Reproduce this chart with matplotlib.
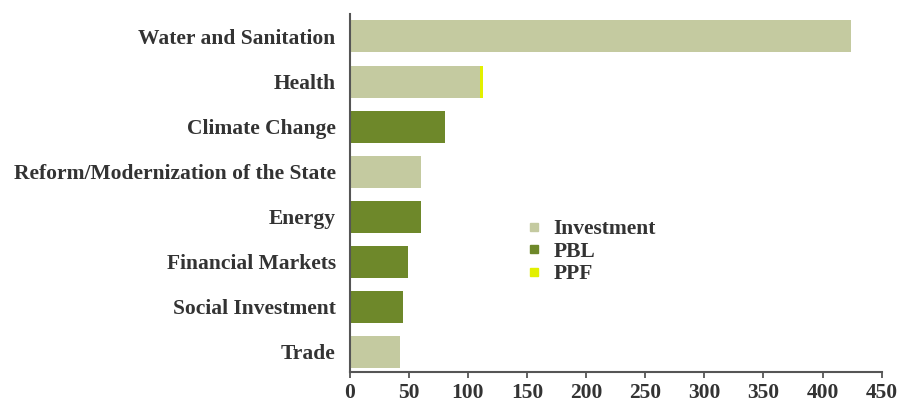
import matplotlib
matplotlib.use("Agg")
import matplotlib.pyplot as plt
from matplotlib.lines import Line2D

# sectors, bottom to top as drawn
sectors = ['Trade', 'Social Investment', 'Financial Markets', 'Energy',
           'Reform/Modernization of the State', 'Climate Change', 'Health',
           'Water and Sanitation']
investment = [42.7, 0, 0, 0, 60.2, 0, 110.5, 424]
pbl = [0, 45.3, 49.8, 60, 0, 80.7, 0, 0]
ppf = [0, 0, 0, 0, 0, 0, 2, 0]
xticks = [0, 50, 100, 150, 200, 250, 300, 350, 400, 450]

inv_col = '#c4caa0'
pbl_col = '#6e882a'
ppf_col = '#e2f000'
axis_col = '#555555'
text_col = '#333333'

plt.rcParams['font.family'] = ['Liberation Serif', 'DejaVu Serif']
plt.rcParams['font.weight'] = 'bold'

fig = plt.figure(figsize=(9.01, 4.04), dpi=100)
ax = fig.add_axes([0.388, 0.0785, 0.5906, 0.886])

y = range(len(sectors))
h = 0.71
ax.barh(y, investment, height=h, color=inv_col)
ax.barh(y, pbl, height=h, left=investment, color=pbl_col)
left2 = [a + b for a, b in zip(investment, pbl)]
ax.barh(y, ppf, height=h, left=left2, color=ppf_col)

ax.set_xlim(0, 450)
ax.set_ylim(-0.45, 7.49)
ax.set_xticks(xticks)
ax.set_yticks(list(y))
ax.set_yticklabels(sectors)

for s in ['top', 'right']:
    ax.spines[s].set_visible(False)
for s in ['left', 'bottom']:
    ax.spines[s].set_color(axis_col)
    ax.spines[s].set_linewidth(1.5)

ax.tick_params(axis='y', length=0, pad=10, labelsize=15.5, labelcolor=text_col)
ax.tick_params(axis='x', length=4, width=1.3, color=axis_col, pad=4,
               labelsize=15.5, labelcolor=text_col)

handles = [Line2D([], [], ls='none', marker='s', markersize=6, color=c)
           for c in [inv_col, pbl_col, ppf_col]]
ax.legend(handles, ['Investment', 'PBL', 'PPF'], loc='upper left',
          bbox_to_anchor=(0.317, 0.452), frameon=False, handlelength=0.7,
          handletextpad=0.55, labelspacing=0.12, borderaxespad=0,
          prop={'size': 15.5, 'weight': 'bold'}, labelcolor=text_col)

fig.savefig('out.png', dpi=100)
